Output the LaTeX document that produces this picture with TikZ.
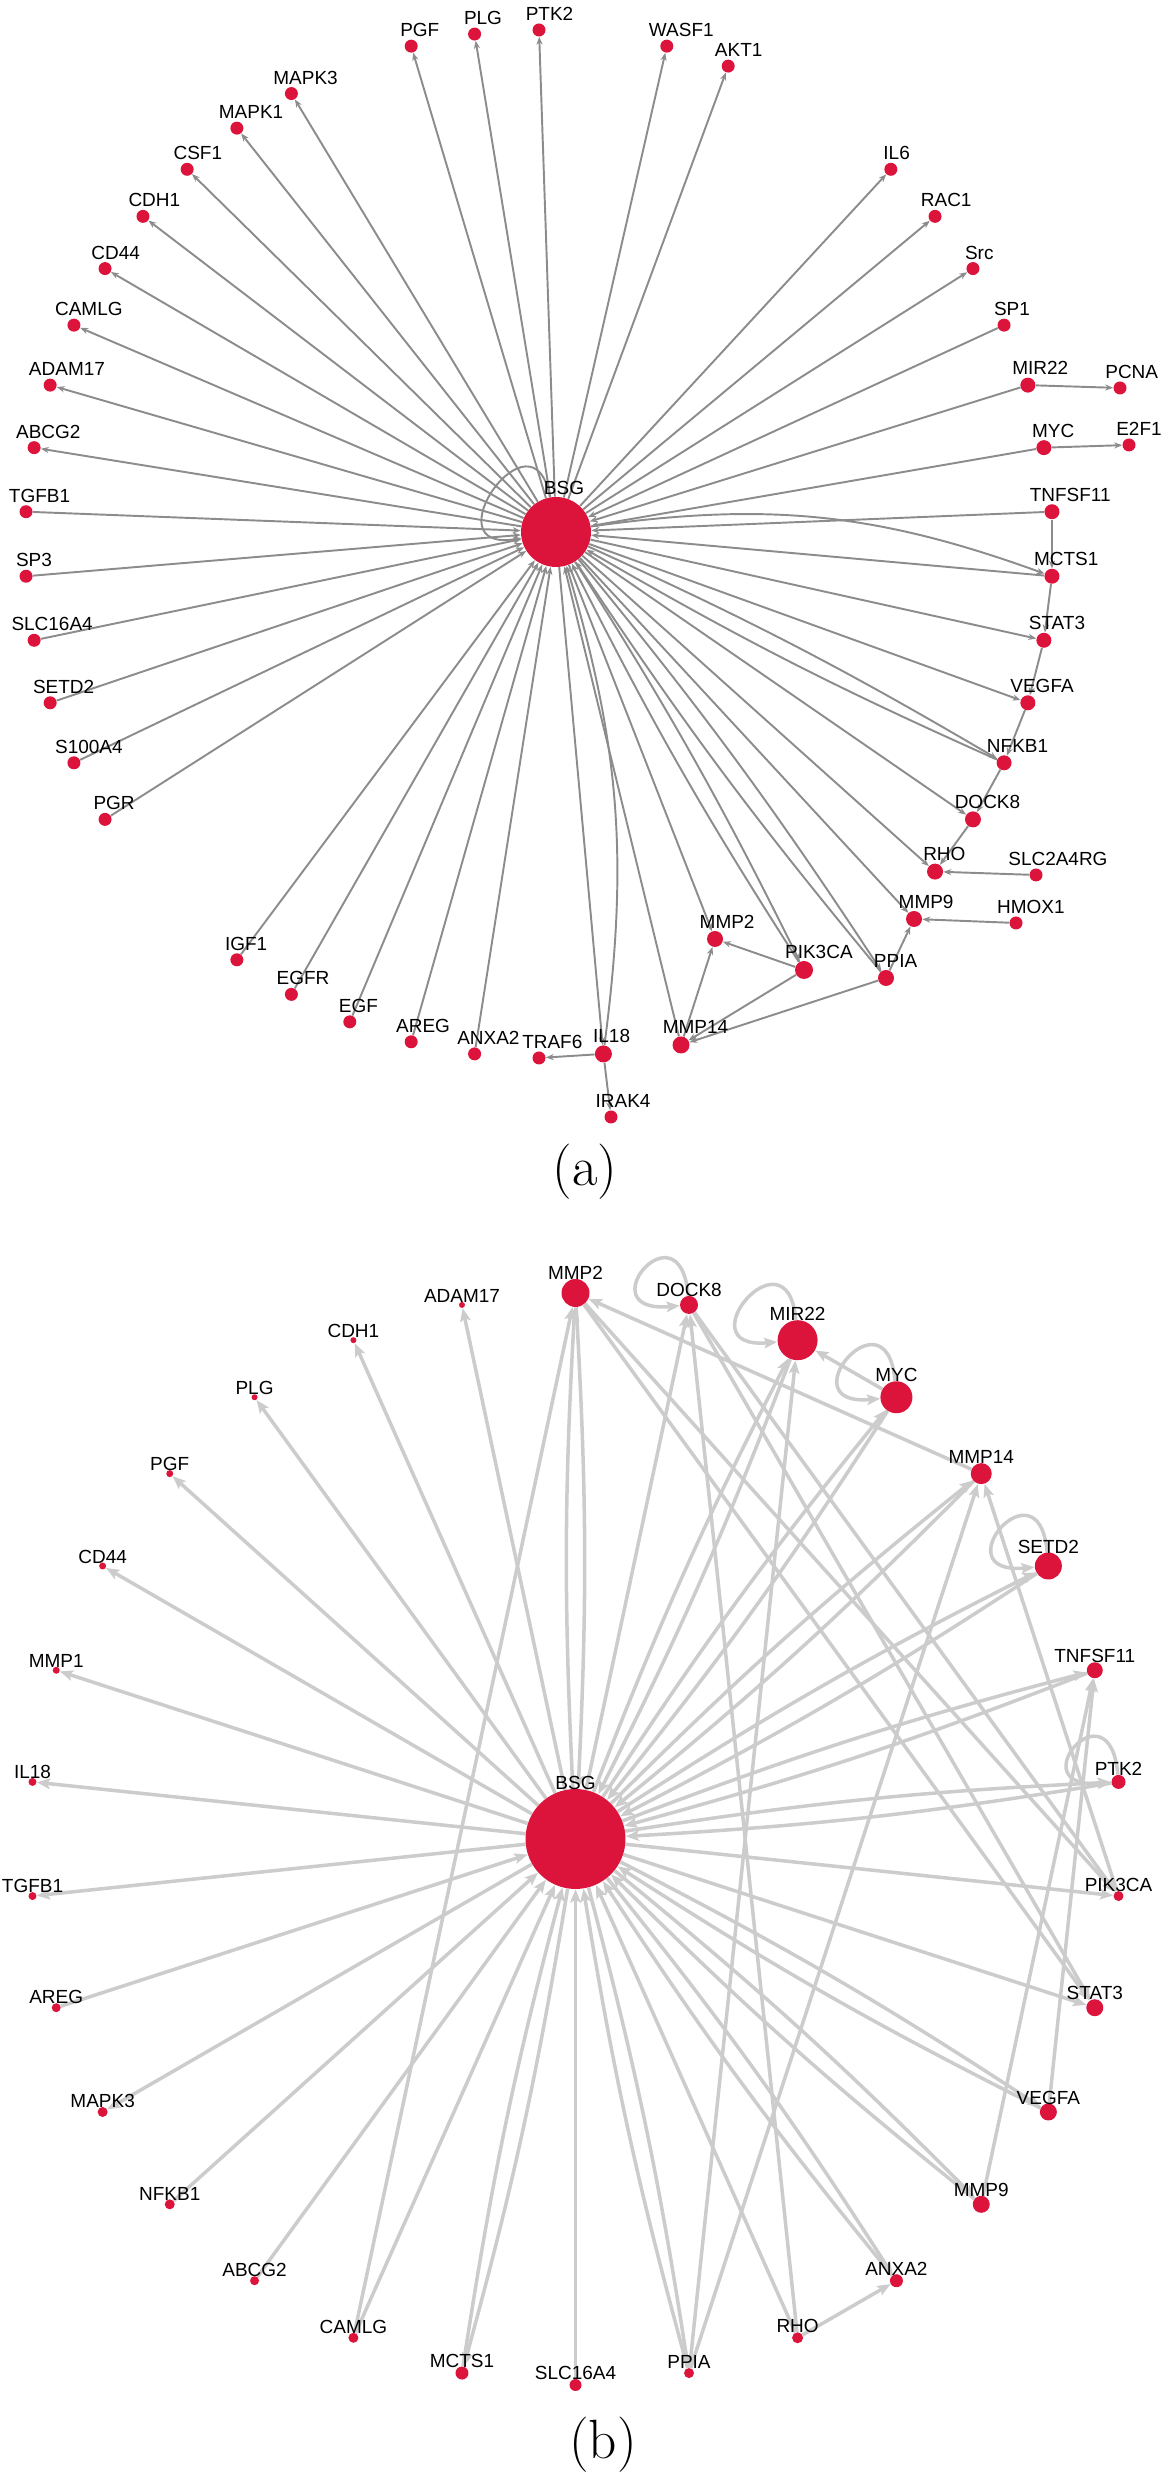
\documentclass[tikz,border=0pt]{standalone}
\usepackage{fontspec}
\newfontfamily\arial{Liberation Sans}
\definecolor{nodered}{RGB}{220,20,60}
\definecolor{edgegrey}{RGB}{140,140,140}
\definecolor{edgelight}{RGB}{204,204,204}
\usetikzlibrary{arrows.meta}
\pgfdeclarelayer{edges}
\pgfsetlayers{edges,main}

\begin{document}
\begin{tikzpicture}[
  x=0.02cm, y=0.02cm,
  dotA/.style={circle,fill=nodered,inner sep=0pt,minimum size=#1*0.04cm},
  dotA/.default=6.5,
  dotB/.style={circle,fill=nodered,inner sep=0pt,minimum size=#1*0.04cm},
  labA/.style={font=\arial\fontsize{10.8}{12}\selectfont,inner sep=0pt,xshift=#1*0.02cm,yshift=0.04cm},
  labB/.style={font=\arial\fontsize{10.8}{12}\selectfont,inner sep=0pt,yshift=-0.03cm},
  edgeA/.style={draw=edgegrey,line width=1.1pt,-{Stealth[length=4.5pt,width=3.5pt]}},
  edgeB/.style={draw=edgelight,line width=2pt,-{Stealth[length=7.5pt,width=6pt,inset=1.5pt]}},
  capfont/.style={font=\fontsize{31.5}{36}\selectfont,inner sep=0pt},
]
  \useasboundingbox (0,0) rectangle (1160,2484);

  % (a) circular layout round BSG
  \begin{scope}[shift={(539,1940)}]
  \node[dotA=35,label={[labA=8]above:BSG}] (aBSG) at (17,12) {};
  \node[dotA,label={[labA=10.5]above:PTK2}] (aPTK2) at (90:514) {};
  \node[dotA,label={[labA=8.4]above:PLG}] (aPLG) at (97.2:514) {};
  \node[dotA,label={[labA=8.6]above:PGF}] (aPGF) at (104.4:514) {};
  \node[dotA,label={[labA=14.2]above:MAPK3}] (aMAPK3) at (118.8:514) {};
  \node[dotA,label={[labA=14.2]above:MAPK1}] (aMAPK1) at (126:514) {};
  \node[dotA,label={[labA=10.7]above:CSF1}] (aCSF1) at (133.2:514) {};
  \node[dotA,label={[labA=11.4]above:CDH1}] (aCDH1) at (140.4:514) {};
  \node[dotA,label={[labA=10.7]above:CD44}] (aCD44) at (147.6:514) {};
  \node[dotA,label={[labA=14.9]above:CAMLG}] (aCAMLG) at (154.8:514) {};
  \node[dotA,label={[labA=16.8]above:ADAM17}] (aADAM17) at (162:514) {};
  \node[dotA,label={[labA=14.2]above:ABCG2}] (aABCG2) at (169.2:514) {};
  \node[dotA,label={[labA=13.5]above:TGFB1}] (aTGFB1) at (176.4:514) {};
  \node[dotA,label={[labA=7.9]above:SP3}] (aSP3) at (183.6:514) {};
  \node[dotA,label={[labA=18]above:SLC16A4}] (aSLC16A4) at (190.8:514) {};
  \node[dotA,label={[labA=13.5]above:SETD2}] (aSETD2) at (198:514) {};
  \node[dotA,label={[labA=15]above:S100A4}] (aS100A4) at (205.2:514) {};
  \node[dotA,label={[labA=9.1]above:PGR}] (aPGR) at (212.4:514) {};
  \node[dotA,label={[labA=9.3]above:IGF1}] (aIGF1) at (234:514) {};
  \node[dotA,label={[labA=11.7]above:EGFR}] (aEGFR) at (241.2:514) {};
  \node[dotA,label={[labA=8.6]above:EGF}] (aEGF) at (248.4:514) {};
  \node[dotA,label={[labA=11.9]above:AREG}] (aAREG) at (255.6:514) {};
  \node[dotA,label={[labA=13.8]above:ANXA2}] (aANXA2) at (262.8:514) {};
  \node[dotA,label={[labA=13.3]above:TRAF6}] (aTRAF6) at (270:514) {};
  \node[dotA=8.5,label={[labA=8.2]above:IL18}] (aIL18) at (277.2:514) {};
  \node[dotA=8.5,label={[labA=14.5]above:MMP14}] (aMMP14) at (142,-501) {};
  \node[dotA=8,label={[labA=12.1]above:MMP2}] (aMMP2) at (176,-395) {};
  \node[dotA=9,label={[labA=14.9]above:PIK3CA}] (aPIK3CA) at (265,-426) {};
  \node[dotA=8,label={[labA=9.6]above:PPIA}] (aPPIA) at (347,-434) {};
  \node[dotA=8,label={[labA=12.1]above:MMP9}] (aMMP9) at (375,-375) {};
  \node[dotA=8,label={[labA=9.3]above:RHO}] (aRHO) at (320.4:514) {};
  \node[dotA=8,label={[labA=14.5]above:DOCK8}] (aDOCK8) at (327.6:514) {};
  \node[dotA=7.5,label={[labA=13.5]above:NFKB1}] (aNFKB1) at (334.8:514) {};
  \node[dotA=7.5,label={[labA=14.2]above:VEGFA}] (aVEGFA) at (342:514) {};
  \node[dotA=7.5,label={[labA=13.1]above:STAT3}] (aSTAT3) at (349.2:514) {};
  \node[dotA=7.5,label={[labA=14.2]above:MCTS1}] (aMCTS1) at (356.4:514) {};
  \node[dotA=7.5,label={[labA=18.2]above:TNFSF11}] (aTNFSF11) at (3.6:514) {};
  \node[dotA=7.5,label={[labA=9.3]above:MYC}] (aMYC) at (10.8:514) {};
  \node[dotA=7.5,label={[labA=12.4]above:MIR22}] (aMIR22) at (18:514) {};
  \node[dotA,label={[labA=7.9]above:SP1}] (aSP1) at (25.2:514) {};
  \node[dotA,label={[labA=6.3]above:Src}] (aSrc) at (32.4:514) {};
  \node[dotA,label={[labA=11.2]above:RAC1}] (aRAC1) at (39.6:514) {};
  \node[dotA,label={[labA=5.8]above:IL6}] (aIL6) at (46.8:514) {};
  \node[dotA,label={[labA=10.5]above:AKT1}] (aAKT1) at (68.4:514) {};
  \node[dotA,label={[labA=14.5]above:WASF1}] (aWASF1) at (75.6:514) {};
  % partners outside the ring
  \node[dotA,label={[labA=11.7]above:PCNA}] (aPCNA) at (581,156) {};
  \node[dotA,label={[labA=10]above:E2F1}] (aE2F1) at (590,99) {};
  \node[dotA,label={[labA=21.9]above:SLC2A4RG}] (aSLC2A4RG) at (497,-331) {};
  \node[dotA,label={[labA=14.9]above:HMOX1}] (aHMOX1) at (477,-379) {};
  \node[dotA,label={[labA=12.1]above:IRAK4}] (aIRAK4) at (72,-573) {};

  \begin{pgfonlayer}{edges}
  \foreach \n in {PTK2,PLG,PGF,MAPK3,MAPK1,CSF1,CDH1,CD44,CAMLG,ADAM17,ABCG2,WASF1,AKT1,IL6,RAC1,Src,STAT3,VEGFA,DOCK8,RHO,MMP9,MMP2}
    \draw[edgeA] (aBSG) -- (a\n);
  \foreach \n in {TGFB1,SP3,SLC16A4,SETD2,S100A4,PGR,IGF1,EGFR,EGF,AREG,ANXA2,MMP14,SP1,MIR22,MYC,TNFSF11}
    \draw[edgeA] (a\n) -- (aBSG);
  \foreach \n in {NFKB1,PIK3CA,PPIA}{
    \draw[edgeA] (aBSG) to[bend left=3] (a\n);
    \draw[edgeA] (a\n) to[bend left=3] (aBSG);}
  \draw[edgeA] (aMCTS1) -- (aBSG);
  \draw[edgeA] (aBSG) to[bend left=14] (aMCTS1);
  \draw[edgeA] (aBSG) -- (aIL18);
  \draw[edgeA] (aIL18) to[bend right=12] (aBSG);
  \draw[edgeA] (aBSG) to[out=100,in=190,min distance=1.9cm] (aBSG);
  \draw[edgeA] (aMIR22) -- (aPCNA);
  \draw[edgeA] (aMYC) -- (aE2F1);
  \draw[edgeA] (aTNFSF11) -- (aMCTS1);
  \draw[edgeA] (aMCTS1) -- (aSTAT3);
  \draw[edgeA] (aSTAT3) -- (aVEGFA);
  \draw[edgeA] (aVEGFA) -- (aNFKB1);
  \draw[edgeA] (aNFKB1) -- (aDOCK8);
  \draw[edgeA] (aDOCK8) -- (aRHO);
  \draw[edgeA] (aSLC2A4RG) -- (aRHO);
  \draw[edgeA] (aHMOX1) -- (aMMP9);
  \draw[edgeA] (aPPIA) -- (aMMP9);
  \draw[edgeA] (aPPIA) -- (aMMP14);
  \draw[edgeA] (aPIK3CA) -- (aMMP14);
  \draw[edgeA] (aPIK3CA) -- (aMMP2);
  \draw[edgeA] (aMMP14) -- (aMMP2);
  \draw[edgeA] (aIL18) -- (aTRAF6);
  \draw[edgeA] (aIL18) -- (aIRAK4);
  \end{pgfonlayer}
  \end{scope}

  % (b) circular layout round BSG
  \begin{scope}[shift={(575.5,645)}]
  \node[dotB=50,label={[labB]above:BSG}] (bBSG) at (0,0) {};
  \node[dotB=14,label={[labB]above:MMP2}] (bMMP2) at (90:546) {};
  \node[dotB=9,label={[labB]above:DOCK8}] (bDOCK8) at (78:546) {};
  \node[dotB=20,label={[labB]above:MIR22}] (bMIR22) at (66:546) {};
  \node[dotB=16,label={[labB]above:MYC}] (bMYC) at (54:546) {};
  \node[dotB=10.5,label={[labB]above:MMP14}] (bMMP14) at (42:546) {};
  \node[dotB=13.5,label={[labB]above:SETD2}] (bSETD2) at (30:546) {};
  \node[dotB=8,label={[labB]above:TNFSF11}] (bTNFSF11) at (18:546) {};
  \node[dotB=7,label={[labB]above:PTK2}] (bPTK2) at (6:546) {};
  \node[dotB=5,label={[labB]above:PIK3CA}] (bPIK3CA) at (-6:546) {};
  \node[dotB=8.5,label={[labB]above:STAT3}] (bSTAT3) at (-18:546) {};
  \node[dotB=8.5,label={[labB]above:VEGFA}] (bVEGFA) at (-30:546) {};
  \node[dotB=8.5,label={[labB]above:MMP9}] (bMMP9) at (-42:546) {};
  \node[dotB=6.5,label={[labB]above:ANXA2}] (bANXA2) at (-54:546) {};
  \node[dotB=5.5,label={[labB]above:RHO}] (bRHO) at (-66:546) {};
  \node[dotB=5,label={[labB]above:PPIA}] (bPPIA) at (-78:546) {};
  \node[dotB=6,label={[labB]above:SLC16A4}] (bSLC16A4) at (-90:546) {};
  \node[dotB=6.5,label={[labB]above:MCTS1}] (bMCTS1) at (-102:546) {};
  \node[dotB=5,label={[labB]above:CAMLG}] (bCAMLG) at (-114:546) {};
  \node[dotB=4.5,label={[labB]above:ABCG2}] (bABCG2) at (-126:546) {};
  \node[dotB=5,label={[labB]above:NFKB1}] (bNFKB1) at (-138:546) {};
  \node[dotB=5,label={[labB]above:MAPK3}] (bMAPK3) at (-150:546) {};
  \node[dotB=4.5,label={[labB]above:AREG}] (bAREG) at (-162:546) {};
  \node[dotB=4,label={[labB]above:TGFB1}] (bTGFB1) at (-174:546) {};
  \node[dotB=4,label={[labB]above:IL18}] (bIL18) at (174:546) {};
  \node[dotB=3.5,label={[labB]above:MMP1}] (bMMP1) at (162:546) {};
  \node[dotB=3.5,label={[labB]above:CD44}] (bCD44) at (150:546) {};
  \node[dotB=3.5,label={[labB]above:PGF}] (bPGF) at (138:546) {};
  \node[dotB=3,label={[labB]above:PLG}] (bPLG) at (126:546) {};
  \node[dotB=3,label={[labB]above:CDH1}] (bCDH1) at (114:546) {};
  \node[dotB=3,label={[labB]above:ADAM17}] (bADAM17) at (102:546) {};

  \begin{pgfonlayer}{edges}
  \foreach \n in {ADAM17,CDH1,PLG,PGF,CD44,MMP1,IL18,TGFB1,MAPK3,DOCK8,STAT3,PIK3CA}
    \draw[edgeB] (bBSG) -- (b\n);
  \foreach \n in {AREG,NFKB1,ABCG2,CAMLG,SLC16A4,RHO}
    \draw[edgeB] (b\n) -- (bBSG);
  \foreach \n in {MMP2,MIR22,MYC,MMP14,SETD2,TNFSF11,PTK2,VEGFA,MMP9,ANXA2,PPIA,MCTS1}{
    \draw[edgeB] (bBSG) to[bend left=3] (b\n);
    \draw[edgeB] (b\n) to[bend left=3] (bBSG);}
  \draw[edgeB] (bMMP14) -- (bMMP2);
  \draw[edgeB] (bCAMLG) -- (bMMP2);
  \draw[edgeB] (bMYC) -- (bMIR22);
  \draw[edgeB] (bRHO) -- (bDOCK8);
  \draw[edgeB] (bPPIA) -- (bMIR22);
  \draw[edgeB] (bPPIA) -- (bMMP14);
  \draw[edgeB] (bRHO) -- (bANXA2);
  \draw[edgeB] (bMMP2) -- (bSTAT3);
  \draw[edgeB] (bMMP2) -- (bPIK3CA);
  \draw[edgeB] (bDOCK8) -- (bSTAT3);
  \draw[edgeB] (bDOCK8) -- (bPIK3CA);
  \draw[edgeB] (bPIK3CA) -- (bMMP14);
  \draw[edgeB] (bVEGFA) -- (bTNFSF11);
  \draw[edgeB] (bMMP9) -- (bTNFSF11);
  % self loops
  \foreach \n in {DOCK8,MIR22,MYC,SETD2,PTK2}
    \draw[edgeB] (b\n) to[out=95,in=185,min distance=1.9cm] (b\n);
  \end{pgfonlayer}
  \end{scope}

  % captions
  \node[capfont] (capA) at (585,1312) {(a)};
  \node[capfont] (capB) at (603,39) {(b)};
\end{tikzpicture}
\end{document}
